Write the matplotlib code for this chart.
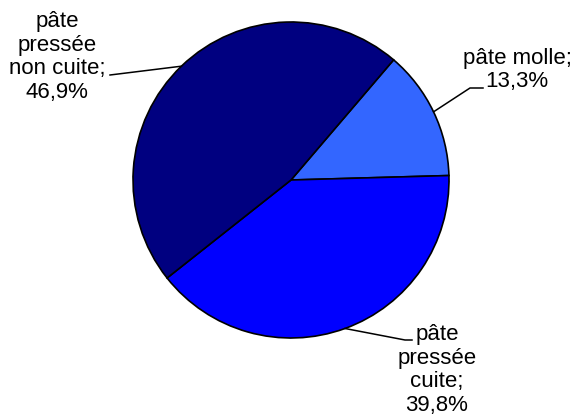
import numpy as np
import matplotlib
matplotlib.use("Agg")
import matplotlib.pyplot as plt

labels = ["pâte molle", "pâte pressée cuite", "pâte pressée non cuite"]
values = [13.3, 39.8, 46.9]
label_text = ["pâte molle;\n13,3%", "pâte\npressée\ncuite;\n39,8%", "pâte\npressée\nnon cuite;\n46,9%"]
colors = ["#3366FF", "#0000FF", "#000080"]

plt.rcParams["font.family"] = ["Liberation Sans", "DejaVu Sans"]

W, H = 574, 417
fig = plt.figure(figsize=(W / 100, H / 100), dpi=100)

# pie centre / radius in pixels (from top-left)
cx, cy, R = 291, 180, 158
ax = fig.add_axes([(cx - R) / W, (H - cy - R) / H, 2 * R / W, 2 * R / H])

wedges, _ = ax.pie(values, colors=colors, startangle=49.5, counterclock=False,
                   radius=1, wedgeprops=dict(edgecolor="black", linewidth=1.2))
ax.set_xlim(-1, 1)
ax.set_ylim(-1, 1)
ax.set_aspect("equal")
ax.axis("off")


def to_data(px, py):
    return (px - cx) / R, (cy - py) / R


# leader line paths (pixel points, from label towards wedge) and label centres
leaders = [
    [(483, 88), (470, 88)],
    [(412, 340), (405, 340)],
    [(110, 75)],
]
text_pos = [(517, 70), (437, 370), (57, 57)]

for w, txt, pts, tp in zip(wedges, label_text, leaders, text_pos):
    ang = np.deg2rad((w.theta1 + w.theta2) / 2)
    ex, ey = np.cos(ang), np.sin(ang)
    xs = [to_data(*p)[0] for p in pts] + [ex]
    ys = [to_data(*p)[1] for p in pts] + [ey]
    ax.plot(xs, ys, color="black", lw=1.1, clip_on=False)
    tx, ty = to_data(*tp)
    ax.text(tx, ty, txt, ha="center", va="center", multialignment="center",
            fontsize=16, linespacing=1.15, clip_on=False)

fig.savefig("out.png", dpi=100)
